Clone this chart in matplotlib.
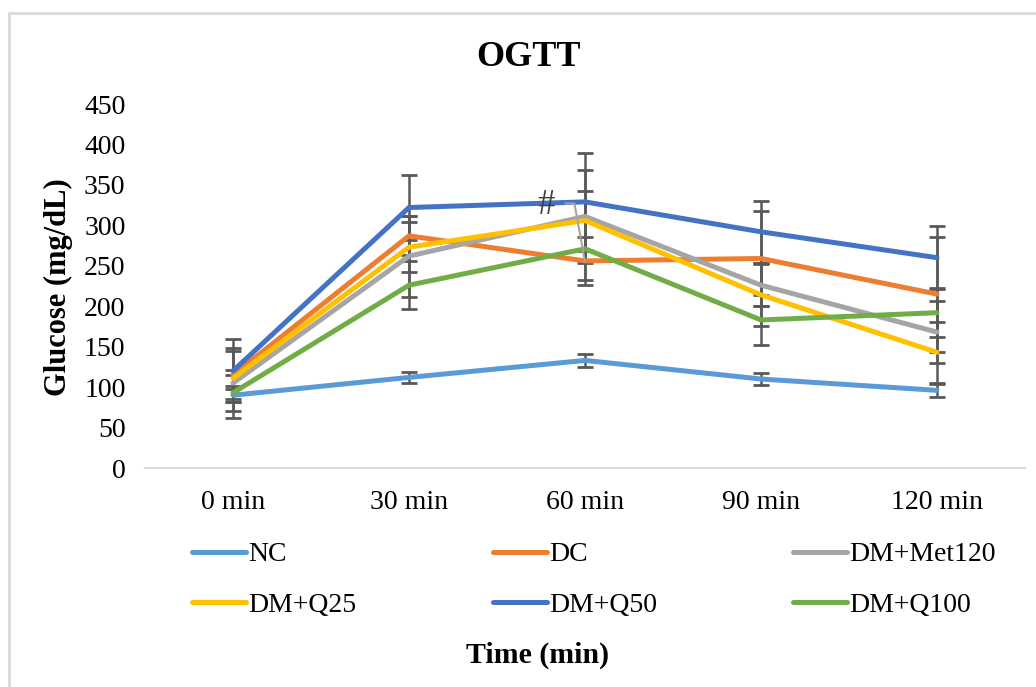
import matplotlib
matplotlib.use("Agg")
import matplotlib.pyplot as plt
from matplotlib.patches import Rectangle

plt.rcParams['font.family'] = ['Liberation Serif', 'DejaVu Serif']

time_labels = ["0 min", "30 min", "60 min", "90 min", "120 min"]
series_names = ["NC", "DC", "DM+Met120", "DM+Q25", "DM+Q50", "DM+Q100"]
colors = ["#5B9BD5", "#ED7D31", "#A5A5A5", "#FFC000", "#4472C4", "#70AD47"]

nc = [90, 112, 133, 110, 96]
dc = [115, 287, 256, 259, 215]
met120 = [105, 262, 311, 226, 168]
q25 = [111, 273, 306, 214, 143]
q50 = [120, 322, 329, 292, 260]
q100 = [93, 226, 271, 183, 192]

nc_err = [8, 7, 8, 8, 8]
dc_err = [30, 24, 30, 59, 71]
met120_err = [43, 50, 57, 26, 38]
q25_err = [10, 31, 37, 39, 38]
q50_err = [39, 40, 61, 38, 39]
q100_err = [22, 30, 38, 31, 30]

values = [nc, dc, met120, q25, q50, q100]
errors = [nc_err, dc_err, met120_err, q25_err, q50_err, q100_err]

W, H = 1036, 687
fig = plt.figure(figsize=(W / 100, H / 100), dpi=100)

# outer chart frame
fig.patches.append(Rectangle((9 / W, -0.05), 1.2, (H - 13) / H + 0.05,
                             transform=fig.transFigure, fill=False,
                             edgecolor="#D9D9D9", linewidth=2))

ax = fig.add_axes([145 / W, 1 - 468 / H, 880 / W, 364 / H])
x = list(range(len(time_labels)))
for name, vals, errs, col in zip(series_names, values, errors, colors):
    ax.errorbar(x, vals, yerr=errs, fmt="none", ecolor="#595959",
                elinewidth=1.8, capsize=5.5, capthick=2.0, zorder=2)
handles = []
for name, vals, col in zip(series_names, values, colors):
    h, = ax.plot(x, vals, color=col, linewidth=3.6, label=name,
                 solid_capstyle="round", zorder=3)
    handles.append(h)

ax.set_xlim(-0.5, 4.5)
ax.set_ylim(0, 450)
ax.set_yticks(range(0, 451, 50))
ax.set_xticks(x)
ax.set_xticklabels(time_labels)
ax.tick_params(axis="both", length=0, labelsize=20)
ax.tick_params(axis="y", pad=14)
ax.tick_params(axis="x", pad=16)
for s in ["top", "right", "left"]:
    ax.spines[s].set_visible(False)
ax.spines["bottom"].set_color("#D9D9D9")
ax.spines["bottom"].set_linewidth(1.5)

# annotation
ax.text(1.78, 325, "#", fontsize=25, color="#404040", ha="center", va="center", zorder=4)
ax.plot([1.89, 1.94, 2.0], [327, 327, 255], color="#A5A5A5", linewidth=1.5, zorder=4)

fig.text(528 / W, 1 - 57 / H, "OGTT", fontsize=26, fontweight="bold",
         ha="center", va="center")
fig.text(58 / W, 1 - 287 / H, "Glucose (mg/dL)", fontsize=22, fontweight="bold",
         rotation=90, ha="center", va="center")
fig.text(538 / W, 1 - 655 / H, "Time (min)", fontsize=21.5, fontweight="bold",
         ha="center", va="center")

# row-major legend order: NC, DC, DM+Met120 / DM+Q25, DM+Q50, DM+Q100
order = [0, 3, 1, 4, 2, 5]
leg = fig.legend([handles[i] for i in order], [series_names[i] for i in order],
                 loc="upper left", bbox_to_anchor=(192 / W, 1 - 542 / H), ncol=3,
                 frameon=False, fontsize=20, handlelength=1.95, handletextpad=0.08,
                 columnspacing=4.9, labelspacing=0.9, borderpad=0, borderaxespad=0)

fig.savefig("out.png", dpi=100)
